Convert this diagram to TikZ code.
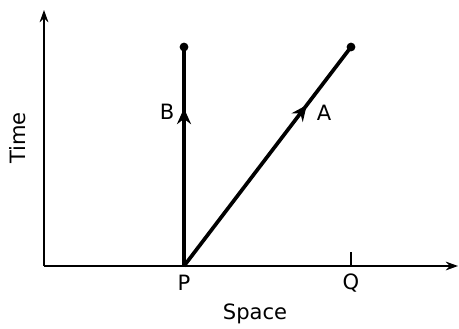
\documentclass[tikz,border=0pt]{standalone}
\usepackage{fontspec}
\setmainfont{DejaVu Sans}
\usetikzlibrary{arrows.meta, positioning, decorations.markings}

\begin{document}
\begin{tikzpicture}[
    x=0.02cm, y=-0.02cm,
    font=\fontsize{12}{14}\selectfont,
    axis/.style={-{Stealth[length=7pt, width=5pt]}, line width=0.8pt},
    worldline/.style={line width=2.1pt, postaction={decorate},
      decoration={markings,
        mark=at position #1 with {\arrow{Stealth[length=9pt, width=8pt, inset=3pt]}}}},
    dot/.style={circle, fill, inner sep=0pt, minimum size=5pt}
  ]
  \useasboundingbox (0,0) rectangle (459,328);

  \coordinate (O)    at (44,266);
  \coordinate (ytop) at (44,10);
  \coordinate (xend) at (458,266);
  \coordinate (P)    at (184,266);
  \coordinate (Q)    at (351,266);
  \node[dot] (B) at (184,47) {};
  \node[dot] (A) at (351,47) {};

  \draw[axis] (O) -- (ytop);
  \draw[axis] (O) -- (xend);
  \draw[line width=0.8pt] (Q) -- ++(0,-14);

  \draw[worldline=0.72] (P) -- (B.center);
  \draw[worldline=0.735] (P) -- (A.center);

  \node (plabel) at (184,283) {P};
  \node (qlabel) at (351,283) {Q};
  \node (blabel) at (167,112) {B};
  \node (alabel) at (324,113) {A};
  \node (space)  at (255,314) {Space};
  \node[rotate=90] (time) at (18,138) {Time};

\end{tikzpicture}
\end{document}
